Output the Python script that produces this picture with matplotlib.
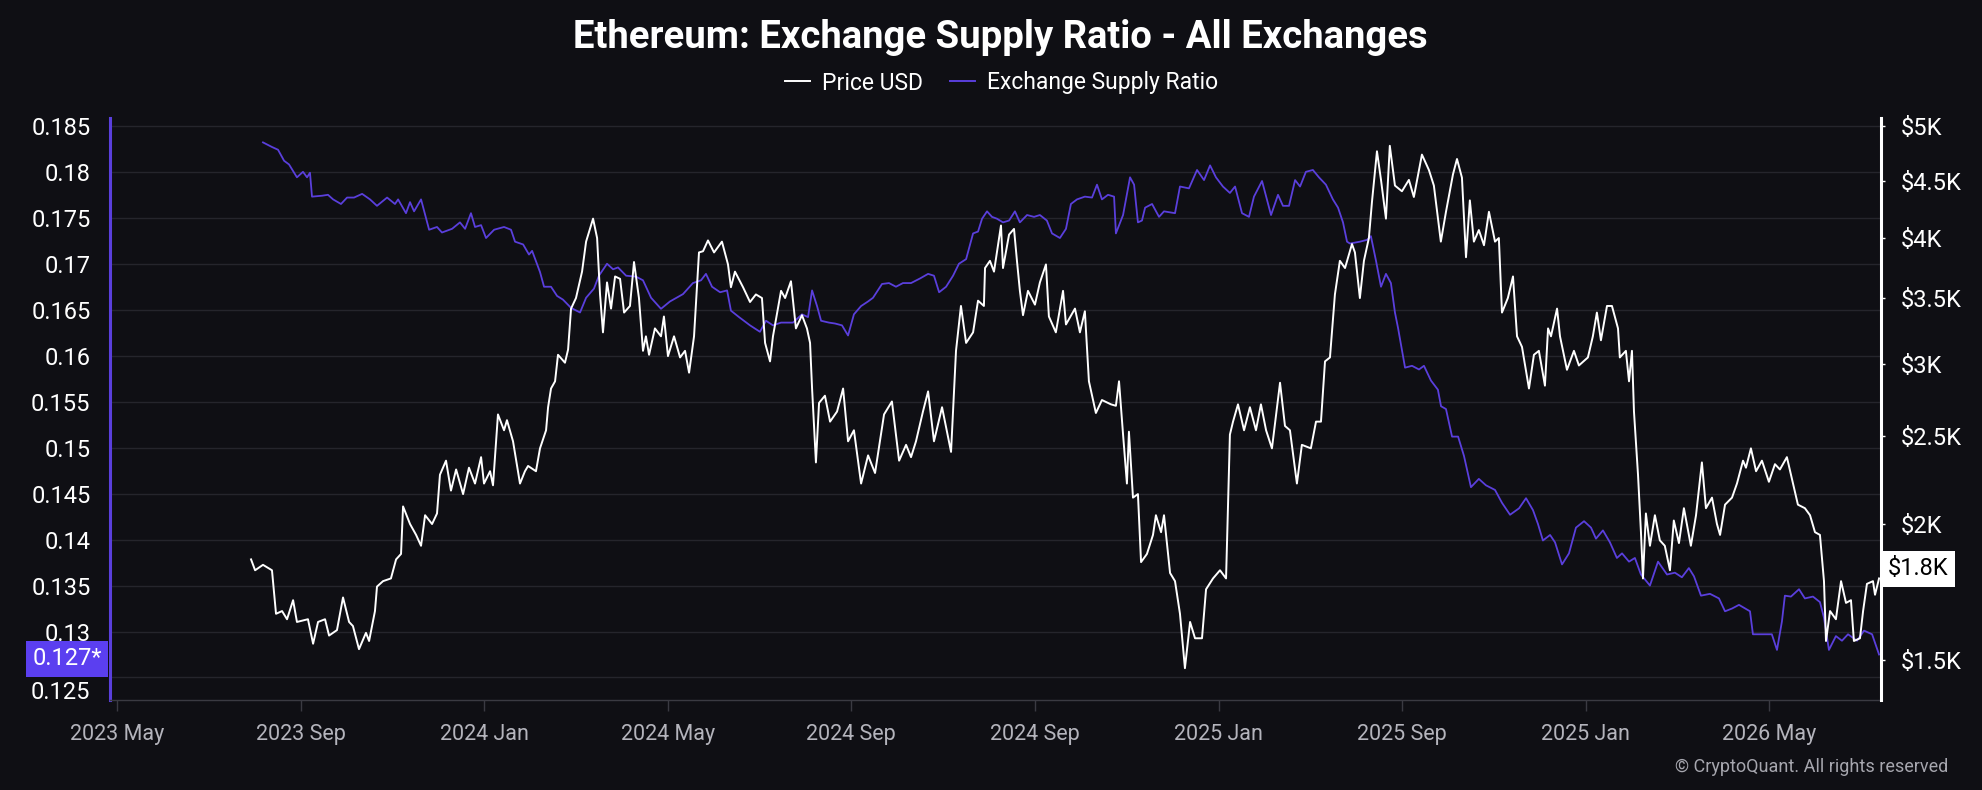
import numpy as np
import matplotlib
matplotlib.use('Agg')
import matplotlib.pyplot as plt
from matplotlib.lines import Line2D
from matplotlib.ticker import FixedLocator, FixedFormatter

plt.rcParams['font.family'] = ['Roboto', 'DejaVu Sans']

# colours
BG = '#0f0f14'
PURPLE = '#5a3fdc'
GRID = '#25252c'

################
# Data #########
################

# x axis (tick slots, as printed on the chart)
tick_labels = ['2023 May', '2023 Sep', '2024 Jan', '2024 May', '2024 Sep',
               '2024 Sep', '2025 Jan', '2025 Sep', '2025 Jan', '2026 May']

# left axis
ratio_ticks = [0.185, 0.18, 0.175, 0.17, 0.165, 0.16, 0.155, 0.15, 0.145, 0.14, 0.135, 0.13, 0.125]
ratio_tick_labels = ['0.185', '0.18', '0.175', '0.17', '0.165', '0.16', '0.155', '0.15',
                     '0.145', '0.14', '0.135', '0.13', '0.125']

# right axis (price), the scale is neither linear nor log on the source chart
price_ticks = [1500, 2000, 2500, 3000, 3500, 4000, 4500, 5000]
price_tick_labels = ['$1.5K', '$2K', '$2.5K', '$3K', '$3.5K', '$4K', '$4.5K', '$5K']
scale_values = [1353, 1500, 2000, 2500, 3000, 3500, 4000, 4500, 5000, 5073]
scale_fracs = [0.0, 0.0687, 0.3024, 0.4536, 0.5773, 0.6907, 0.7938, 0.8918, 0.9863, 1.0]

# price series (x in tick slots)
price_x = [0.730, 0.752, 0.795, 0.844, 0.866, 0.899, 0.926, 0.959, 0.980, 1.040,
           1.068, 1.095, 1.133, 1.155, 1.198, 1.231, 1.264, 1.285, 1.318, 1.356,
           1.373, 1.405, 1.416, 1.449, 1.492, 1.520, 1.547, 1.558, 1.596, 1.629,
           1.656, 1.678, 1.716, 1.743, 1.759, 1.792, 1.819, 1.847, 1.885, 1.917,
           1.950, 1.983, 1.999, 2.032, 2.048, 2.075, 2.108, 2.124, 2.157, 2.195,
           2.222, 2.239, 2.282, 2.304, 2.337, 2.348, 2.364, 2.386, 2.402, 2.440,
           2.457, 2.473, 2.500, 2.533, 2.555, 2.593, 2.615, 2.631, 2.647, 2.669,
           2.691, 2.713, 2.740, 2.762, 2.794, 2.816, 2.843, 2.865, 2.881, 2.898,
           2.930, 2.963, 2.979, 3.001, 3.034, 3.067, 3.094, 3.116, 3.143, 3.170,
           3.192, 3.219, 3.252, 3.295, 3.328, 3.344, 3.366, 3.410, 3.448, 3.480,
           3.513, 3.530, 3.557, 3.573, 3.617, 3.639, 3.671, 3.698, 3.731, 3.758,
           3.775, 3.786, 3.807, 3.824, 3.856, 3.884, 3.922, 3.955, 3.982, 4.014,
           4.053, 4.091, 4.129, 4.178, 4.221, 4.260, 4.298, 4.325, 4.352, 4.390,
           4.418, 4.450, 4.494, 4.543, 4.570, 4.597, 4.625, 4.663, 4.690, 4.722,
           4.728, 4.755, 4.777, 4.815, 4.826, 4.859, 4.886, 4.902, 4.918, 4.935,
           4.962, 5.000, 5.027, 5.060, 5.076, 5.114, 5.153, 5.169, 5.218, 5.245,
           5.272, 5.294, 5.332, 5.365, 5.414, 5.441, 5.458, 5.480, 5.501, 5.512,
           5.534, 5.561, 5.578, 5.610, 5.643, 5.659, 5.687, 5.703, 5.736, 5.763,
           5.790, 5.817, 5.845, 5.872, 5.910, 5.932, 5.970, 6.008, 6.041, 6.062,
           6.079, 6.106, 6.139, 6.171, 6.204, 6.231, 6.259, 6.291, 6.335, 6.362,
           6.389, 6.427, 6.454, 6.503, 6.531, 6.558, 6.580, 6.607, 6.634, 6.661,
           6.689, 6.727, 6.743, 6.770, 6.792, 6.819, 6.836, 6.863, 6.885, 6.912,
           6.933, 6.961, 6.999, 7.037, 7.064, 7.108, 7.146, 7.173, 7.211, 7.239,
           7.277, 7.299, 7.326, 7.348, 7.369, 7.391, 7.418, 7.446, 7.473, 7.506,
           7.527, 7.544, 7.576, 7.604, 7.626, 7.653, 7.691, 7.718, 7.745, 7.778,
           7.795, 7.811, 7.844, 7.860, 7.898, 7.936, 7.963, 8.012, 8.039, 8.061,
           8.083, 8.116, 8.143, 8.176, 8.186, 8.219, 8.236, 8.252, 8.263, 8.285,
           8.301, 8.312, 8.328, 8.350, 8.377, 8.404, 8.431, 8.459, 8.480, 8.508,
           8.535, 8.573, 8.601, 8.633, 8.655, 8.688, 8.715, 8.732, 8.759, 8.797,
           8.824, 8.857, 8.873, 8.900, 8.928, 8.960, 8.998, 9.031, 9.058, 9.096,
           9.129, 9.156, 9.194, 9.222, 9.249, 9.276, 9.298, 9.309, 9.331, 9.363,
           9.391, 9.418, 9.445, 9.461, 9.494, 9.511, 9.532, 9.565, 9.576, 9.598]
price_usd = [1870, 1830, 1850, 1830, 1670, 1680, 1650, 1720, 1640, 1650,
             1560, 1640, 1650, 1590, 1610, 1730, 1640, 1625, 1540, 1600,
             1570, 1680, 1770, 1790, 1800, 1870, 1890, 2100, 2000, 1960,
             1920, 2050, 2000, 2060, 2280, 2360, 2190, 2310, 2170, 2320,
             2230, 2380, 2230, 2300, 2220, 2650, 2540, 2610, 2470, 2230,
             2300, 2330, 2300, 2430, 2540, 2700, 2830, 2880, 3070, 3010,
             3110, 3420, 3500, 3720, 3970, 4170, 4000, 3530, 3240, 3630,
             3420, 3680, 3660, 3390, 3440, 3800, 3500, 3100, 3210, 3070,
             3270, 3210, 3360, 3060, 3210, 3050, 3100, 2940, 3210, 3880,
             3890, 3980, 3880, 3970, 3780, 3590, 3720, 3590, 3470, 3530,
             3500, 3160, 3020, 3210, 3560, 3500, 3640, 3270, 3370, 3270,
             3160, 2830, 2350, 2730, 2780, 2600, 2670, 2830, 2470, 2540,
             2230, 2390, 2290, 2650, 2740, 2360, 2450, 2380, 2470, 2670,
             2810, 2470, 2700, 2410, 3100, 3440, 3160, 3240, 3480, 3440,
             3750, 3810, 3720, 4110, 3750, 4030, 4080, 3810, 3560, 3370,
             3560, 3450, 3630, 3780, 3360, 3240, 3560, 3300, 3420, 3240,
             3400, 2880, 2660, 2750, 2720, 2710, 2880, 2510, 2230, 2530,
             2150, 2170, 1860, 1890, 1960, 2050, 1970, 2050, 1820, 1790,
             1670, 1470, 1640, 1580, 1580, 1760, 1800, 1830, 1800, 2510,
             2600, 2720, 2540, 2700, 2540, 2720, 2540, 2430, 2870, 2570,
             2540, 2230, 2450, 2430, 2600, 2600, 3020, 3050, 3530, 3810,
             3750, 3950, 3880, 3500, 3810, 4000, 4320, 4770, 4510, 4170,
             4820, 4460, 4410, 4510, 4360, 4740, 4600, 4460, 3970, 4230,
             4560, 4700, 4530, 3840, 4330, 3970, 4070, 3940, 4230, 3970,
             4000, 3390, 3500, 3680, 3210, 3130, 2830, 3070, 3100, 2850,
             3270, 3210, 3420, 3210, 2960, 3100, 2990, 3050, 3210, 3390,
             3180, 3440, 3440, 3270, 3050, 3100, 2880, 3100, 2670, 2280,
             1970, 1800, 2060, 1920, 2050, 1940, 1920, 1830, 2020, 1930,
             2090, 1920, 2050, 2350, 2090, 2150, 2000, 1960, 2110, 2150,
             2230, 2360, 2320, 2430, 2300, 2360, 2240, 2340, 2310, 2380,
             2230, 2110, 2090, 2050, 1970, 1960, 1790, 1570, 1680, 1650,
             1790, 1710, 1720, 1570, 1580, 1680, 1780, 1790, 1740, 1800]

# exchange supply ratio series (x in tick slots)
ratio_x = [0.795, 0.844, 0.877, 0.910, 0.937, 0.980, 1.013, 1.035, 1.051, 1.062,
           1.117, 1.149, 1.177, 1.220, 1.253, 1.291, 1.335, 1.378, 1.416, 1.471,
           1.514, 1.531, 1.574, 1.596, 1.618, 1.656, 1.700, 1.743, 1.770, 1.825,
           1.868, 1.896, 1.928, 1.950, 1.983, 2.010, 2.054, 2.108, 2.146, 2.168,
           2.212, 2.244, 2.261, 2.304, 2.326, 2.364, 2.397, 2.429, 2.473, 2.522,
           2.555, 2.598, 2.625, 2.669, 2.702, 2.729, 2.773, 2.827, 2.865, 2.909,
           2.963, 3.012, 3.083, 3.137, 3.181, 3.208, 3.241, 3.285, 3.323, 3.344,
           3.388, 3.448, 3.502, 3.535, 3.573, 3.617, 3.682, 3.731, 3.764, 3.786,
           3.813, 3.835, 3.878, 3.911, 3.949, 3.982, 4.014, 4.053, 4.091, 4.118,
           4.167, 4.205, 4.243, 4.281, 4.325, 4.374, 4.418, 4.450, 4.478, 4.516,
           4.554, 4.586, 4.625, 4.663, 4.690, 4.712, 4.739, 4.766, 4.793, 4.826,
           4.859, 4.891, 4.918, 4.957, 4.995, 5.027, 5.065, 5.093, 5.136, 5.169,
           5.196, 5.229, 5.272, 5.311, 5.338, 5.365, 5.398, 5.431, 5.441, 5.480,
           5.518, 5.540, 5.561, 5.583, 5.600, 5.638, 5.676, 5.703, 5.763, 5.790,
           5.839, 5.883, 5.921, 5.954, 5.986, 6.024, 6.062, 6.090, 6.128, 6.166,
           6.193, 6.237, 6.286, 6.324, 6.351, 6.384, 6.417, 6.444, 6.476, 6.514,
           6.547, 6.585, 6.623, 6.651, 6.678, 6.700, 6.716, 6.770, 6.809, 6.830,
           6.858, 6.885, 6.912, 6.939, 6.961, 6.978, 7.016, 7.054, 7.092, 7.119,
           7.157, 7.195, 7.212, 7.239, 7.272, 7.305, 7.337, 7.375, 7.418, 7.457,
           7.506, 7.544, 7.588, 7.637, 7.675, 7.713, 7.740, 7.767, 7.806, 7.833,
           7.871, 7.909, 7.947, 7.991, 8.029, 8.056, 8.094, 8.132, 8.170, 8.198,
           8.236, 8.268, 8.301, 8.350, 8.394, 8.443, 8.486, 8.524, 8.562, 8.590,
           8.628, 8.677, 8.726, 8.759, 8.797, 8.835, 8.895, 8.911, 8.960, 9.014,
           9.042, 9.069, 9.085, 9.118, 9.162, 9.194, 9.238, 9.276, 9.298, 9.325,
           9.363, 9.396, 9.429, 9.478, 9.516, 9.560, 9.598]
ratio_val = [0.1832, 0.1827, 0.1824, 0.1812, 0.1808, 0.1794, 0.1800, 0.1794, 0.1799, 0.1773,
             0.1774, 0.1775, 0.1770, 0.1765, 0.1772, 0.1772, 0.1776, 0.1770, 0.1763, 0.1772,
             0.1765, 0.1770, 0.1755, 0.1767, 0.1757, 0.1770, 0.1737, 0.1740, 0.1734, 0.1738,
             0.1745, 0.1738, 0.1755, 0.1740, 0.1742, 0.1728, 0.1737, 0.1740, 0.1737, 0.1724,
             0.1721, 0.1710, 0.1714, 0.1691, 0.1675, 0.1675, 0.1665, 0.1661, 0.1652, 0.1647,
             0.1663, 0.1673, 0.1687, 0.1700, 0.1694, 0.1696, 0.1687, 0.1686, 0.1682, 0.1663,
             0.1651, 0.1659, 0.1667, 0.1679, 0.1682, 0.1689, 0.1675, 0.1669, 0.1671, 0.1649,
             0.1642, 0.1633, 0.1626, 0.1638, 0.1633, 0.1636, 0.1636, 0.1645, 0.1642, 0.1671,
             0.1654, 0.1638, 0.1636, 0.1635, 0.1633, 0.1622, 0.1645, 0.1654, 0.1659, 0.1663,
             0.1678, 0.1679, 0.1675, 0.1679, 0.1679, 0.1684, 0.1689, 0.1687, 0.1669, 0.1675,
             0.1687, 0.1700, 0.1705, 0.1733, 0.1735, 0.1749, 0.1757, 0.1751, 0.1749, 0.1745,
             0.1747, 0.1757, 0.1745, 0.1753, 0.1751, 0.1753, 0.1747, 0.1733, 0.1728, 0.1738,
             0.1765, 0.1770, 0.1773, 0.1772, 0.1786, 0.1770, 0.1775, 0.1773, 0.1733, 0.1753,
             0.1794, 0.1786, 0.1745, 0.1747, 0.1761, 0.1765, 0.1751, 0.1757, 0.1755, 0.1784,
             0.1782, 0.1802, 0.1791, 0.1807, 0.1794, 0.1784, 0.1777, 0.1784, 0.1755, 0.1751,
             0.1773, 0.1790, 0.1753, 0.1775, 0.1763, 0.1763, 0.1791, 0.1784, 0.1800, 0.1802,
             0.1794, 0.1786, 0.1770, 0.1761, 0.1745, 0.1724, 0.1722, 0.1724, 0.1726, 0.1730,
             0.1703, 0.1675, 0.1689, 0.1679, 0.1647, 0.1630, 0.1587, 0.1589, 0.1585, 0.1589,
             0.1573, 0.1563, 0.1545, 0.1542, 0.1512, 0.1512, 0.1491, 0.1457, 0.1466, 0.1459,
             0.1454, 0.1440, 0.1427, 0.1434, 0.1445, 0.1432, 0.1417, 0.1399, 0.1405, 0.1397,
             0.1373, 0.1385, 0.1413, 0.1420, 0.1413, 0.1401, 0.1410, 0.1397, 0.1380, 0.1385,
             0.1376, 0.1380, 0.1362, 0.1350, 0.1376, 0.1362, 0.1364, 0.1359, 0.1369, 0.1360,
             0.1339, 0.1341, 0.1336, 0.1322, 0.1325, 0.1329, 0.1322, 0.1297, 0.1297, 0.1297,
             0.1280, 0.1311, 0.1339, 0.1338, 0.1346, 0.1336, 0.1338, 0.1332, 0.1315, 0.1280,
             0.1295, 0.1290, 0.1297, 0.1290, 0.1301, 0.1297, 0.1275]


def price_fwd(v):
    return np.interp(v, scale_values, scale_fracs)


def price_inv(t):
    return np.interp(t, scale_fracs, scale_values)


################
# Figure #######
################

fig = plt.figure(figsize=(19.83, 7.90), dpi=100, facecolor=BG)
ax = fig.add_axes([0.0555, 0.1139, 0.8931, 0.7367])
ax.set_facecolor(BG)
ax2 = ax.twinx()
ax2.patch.set_visible(False)

# supply ratio on the left axis
ax.plot(ratio_x, ratio_val, color=PURPLE, lw=1.3)
ax.set_xlim(-0.038, 9.609)
ax.set_ylim(0.12255, 0.18585)
ax.yaxis.set_major_locator(FixedLocator(ratio_ticks))
ax.yaxis.set_major_formatter(FixedFormatter(
    [l if l != '0.125' else '' for l in ratio_tick_labels]))
ax.set_xticks(range(len(tick_labels)))
ax.set_xticklabels(tick_labels)
ax.yaxis.grid(True, color=GRID, lw=1)
ax.set_axisbelow(True)

ax.tick_params(axis='y', length=0, pad=14, labelsize=17, labelcolor='white')
ax.tick_params(axis='x', length=8, width=1, color='#3a3a42', pad=9,
               labelsize=15.5, labelcolor='#b4b4bc')
for side in ('top', 'right'):
    ax.spines[side].set_visible(False)
ax.spines['left'].set_color(PURPLE)
ax.spines['left'].set_linewidth(2.2)
ax.spines['bottom'].set_color('#3a3a42')
ax.spines['bottom'].set_linewidth(1)

# price on the right axis
ax2.plot(price_x, price_usd, color='white', lw=1.4)
ax2.set_yscale('function', functions=(price_fwd, price_inv))
ax2.set_ylim(scale_values[0], scale_values[-1])
ax2.yaxis.set_major_locator(FixedLocator(price_ticks))
ax2.yaxis.set_major_formatter(FixedFormatter(price_tick_labels))
ax2.yaxis.set_minor_locator(FixedLocator([]))
ax2.tick_params(axis='y', length=3, width=1, color='white', pad=11,
                labelsize=17, labelcolor='white')
for side in ('top', 'left', 'bottom'):
    ax2.spines[side].set_visible(False)
ax2.spines['right'].set_color('white')
ax2.spines['right'].set_linewidth(2.2)

# lowest left label sits under the value badge
ax.annotate('0.125', xy=(0, 0.125), xycoords=('axes fraction', 'data'),
            xytext=(-14.4, -11), textcoords='offset points',
            ha='right', va='center', color='white', fontsize=17)

# current value badges
ax.annotate('0.127*', xy=(0, ratio_val[-1]), xycoords=('axes fraction', 'data'),
            xytext=(-6, -3), textcoords='offset points',
            ha='right', va='center', color='white', fontsize=17,
            bbox=dict(boxstyle='square,pad=0.28', fc='#5b3ff0', ec='none'))
ax2.annotate('$1.8K', xy=(1, price_usd[-1]), xycoords=('axes fraction', 'data'),
             xytext=(5, 7), textcoords='offset points',
             ha='left', va='center', color='black', fontsize=17,
             bbox=dict(boxstyle='square,pad=0.28', fc='white', ec='none'))

# title, legend, credit
fig.text(0.5045, 1 - 37 / 790, 'Ethereum: Exchange Supply Ratio - All Exchanges',
         ha='center', va='center', fontsize=27.5, fontweight='bold', color='white')
handles = [Line2D([], [], color='white', lw=1.4), Line2D([], [], color=PURPLE, lw=1.4)]
fig.legend(handles, ['Price USD', 'Exchange Supply Ratio'], loc='center',
           bbox_to_anchor=(0.505, 1 - 83 / 790), ncol=2, frameon=False,
           fontsize=16.5, labelcolor='white', handlelength=1.1,
           handletextpad=0.5, columnspacing=1.2)
fig.text(1948 / 1983, 1 - 767 / 790, '© CryptoQuant. All rights reserved',
         ha='right', va='center', fontsize=13, color='#a6a6ae')

fig.savefig('out.png', dpi=100, facecolor=BG)
